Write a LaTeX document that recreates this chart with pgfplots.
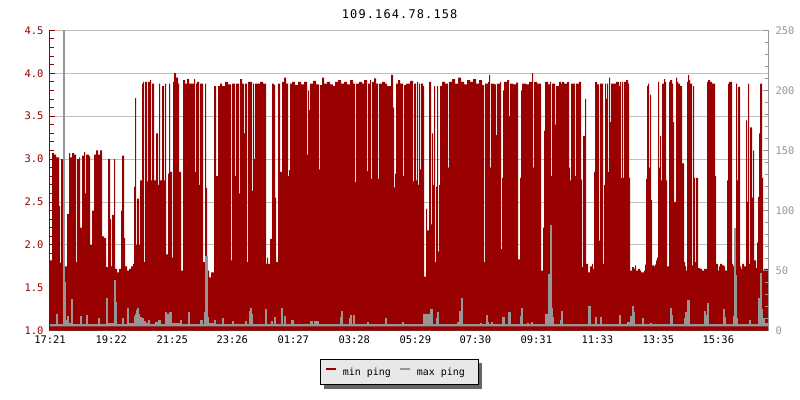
\documentclass[border=0pt]{standalone}
\usepackage{fontspec}
\setmainfont{DejaVu Sans Mono}
\usepackage{pgfplots}
\pgfplotsset{compat=1.18}
\pgfdeclarelayer{shadowlayer}
\pgfsetlayers{shadowlayer,main}
\definecolor{minred}{RGB}{153,0,0}
\definecolor{maxgray}{RGB}{150,150,150}
\definecolor{gridgray}{RGB}{192,192,192}
\definecolor{leggray}{RGB}{232,232,232}
\begin{document}
\begin{tikzpicture}
\path[use as bounding box] (0,0) rectangle (800bp,400bp);
\pgfplotsset{
  mybase/.style={
    scale only axis, width=718bp, height=300.4bp,
    at={(50bp,69.3bp)}, anchor=south west,
    xmin=0, xmax=718,
    tick label style={font=\fontsize{10.5}{12}\selectfont},
    /pgf/number format/assume math mode=true,
    major tick length=5bp, minor tick length=3.5bp,
    axis line style={-},
  }
}
\begin{axis}[mybase,
  ymin=1, ymax=4.5,
  axis x line=none, axis y line*=left,
  tick align=inside,
  ytick={1,1.5,2,2.5,3,3.5,4,4.5}, minor y tick num=4,
  y axis line style={draw=minred, line width=1bp},
  ytick style={draw=minred, line width=0.8bp},
  yticklabel style={text=minred, xshift=-3bp, /pgf/number format/.cd, fixed, fixed zerofill, precision=1},
  ymajorgrids, major grid style={draw=gridgray, line width=0.8bp},
  title={\addfontfeatures{LetterSpace=9.5}109.164.78.158},
  title style={at={(0.487,1)}, anchor=center, yshift=10bp, font=\fontsize{12}{14}\selectfont},
]
\addplot[const plot, fill=minred, draw=none] coordinates {
(0,1.82)(2,3.07)(4,3.05)(6,3.02)(9,2.45)(10,1.79)(11,3.0)(13,1.72)(15,1.75)(17,2.36)(19,3.07)(20,3.02)(22,3.07)(24,3.05)(26,1.8)(27,3.0)(29,3.02)(30,2.2)(32,3.04)(34,3.08)(35,2.6)(36,3.05)(39,3.03)(40,2.0)(42,2.4)(44,3.05)(46,3.1)(48,3.05)(50,3.1)(52,2.1)(54,2.08)(56,1.74)(58,3.0)(60,2.3)(61,1.75)(62,2.35)(64,3.0)(65,1.72)(67,1.68)(69,1.72)(71,2.4)(72,3.04)(74,2.08)(75,1.75)(77,1.7)(79,1.72)(81,1.75)(83,1.78)(84,2.68)(85,3.71)(86,2.0)(87,2.54)(89,2.0)(90,2.75)(92,3.88)(93,3.9)(94,1.8)(95,3.9)(97,2.74)(98,3.9)(100,3.92)(101,2.75)(102,3.88)(104,2.75)(106,3.3)(108,2.7)(109,3.88)(110,2.75)(112,3.85)(114,2.75)
(115,3.88)(116,1.89)(118,2.83)(119,3.88)(120,2.85)(122,1.85)(123,3.9)(124,4.0)(126,3.95)(128,3.88)(129,2.85)(131,1.7)(133,3.92)(135,3.88)(137,3.93)(139,3.88)(144,3.93)(145,2.85)(146,3.88)(147,3.9)(149,2.7)(150,3.88)(153,1.8)(155,3.88)(156,2.66)(157,1.7)(159,1.62)(161,1.68)(164,3.85)(166,2.8)(168,3.85)(170,3.88)(172,3.85)(175,3.9)(178,3.87)(181,1.82)(182,3.88)(185,2.8)(186,3.88)(189,2.6)(190,3.93)(192,3.88)(194,3.3)(195,3.88)(197,1.8)(198,3.9)(202,2.63)(203,3.88)(204,3.0)(205,3.88)(210,3.9)(213,3.88)(216,1.78)(217,1.85)(218,1.78)(220,2.07)(222,3.88)(224,3.86)(225,2.55)(226,1.8)(228,3.88)(230,2.85)(232,3.9)(234,3.95)(236,3.88)(238,2.8)
(239,2.87)(240,3.88)(242,3.9)(245,3.86)(248,3.9)(251,3.87)(254,3.9)(257,3.05)(258,3.8)(259,3.57)(260,3.88)(263,3.91)(266,3.87)(269,2.88)(270,3.86)(272,3.95)(274,3.88)(277,3.9)(280,3.87)(283,3.85)(285,3.9)(288,3.92)(291,3.88)(294,3.9)(297,3.87)(300,3.92)(303,3.88)(305,2.73)(306,3.88)(309,3.9)(312,3.88)(314,3.92)(317,2.86)(318,3.88)(320,3.92)(321,2.77)(322,3.9)(324,3.94)(326,3.88)(328,2.77)(329,3.88)(332,3.9)(335,3.88)(337,3.85)(341,3.98)(343,3.6)(344,2.67)(345,2.83)(346,3.88)(348,3.92)(350,3.88)(353,2.8)(354,3.86)(356,3.88)
(357,3.88)(360,3.91)(363,2.74)(364,3.88)(366,2.75)(367,3.9)(368,2.7)(369,3.88)(370,2.88)(371,3.88)(373,3.85)(374,1.63)(376,2.42)(377,2.17)(379,3.9)(381,2.24)(382,3.3)(383,2.7)(384,3.85)(385,1.8)(386,2.68)(387,3.85)(388,1.92)(389,2.7)(390,3.85)(392,3.9)(395,3.88)(398,2.9)(399,3.9)(402,3.93)(405,3.88)(408,3.95)(411,3.9)(414,3.87)(417,3.92)(420,3.9)(423,3.93)(426,3.88)(429,3.92)(432,3.86)(434,1.8)(435,3.88)(438,3.9)(439,3.98)(440,2.9)(441,3.88)(444,3.87)(446,3.28)(447,3.88)(450,3.9)(451,1.95)(452,2.78)(453,3.8)(454,3.9)(457,3.92)(459,3.5)(460,3.88)(463,3.87)(466,3.89)(468,1.83)(470,2.78)(471,3.8)(472,3.88)
(476,3.87)(479,3.9)(482,4.0)(483,2.9)(484,3.9)(487,3.88)(491,1.7)(493,2.2)(494,3.33)(495,3.9)(498,3.87)(500,3.9)(501,2.8)(502,3.88)(505,3.4)(506,3.85)(509,3.9)(511,3.88)(512,3.9)(514,3.88)(517,3.9)(519,2.9)(520,2.75)(521,3.88)(525,2.8)(526,3.88)(529,3.9)(531,2.76)(532,1.74)(533,3.27)(535,3.7)(536,1.78)(538,1.68)(540,1.75)(542,1.78)(543,1.72)(544,2.85)(545,3.9)(547,3.87)(549,2.05)(550,3.88)(553,1.78)(554,2.7)(555,3.88)(556,3.7)(557,3.88)(558,2.85)(559,3.95)(560,3.43)(561,3.88)(564,3.88)(566,3.9)(569,3.85)(570,3.9)(571,2.78)(572,3.9)(573,2.78)(574,3.9)(576,3.92)(578,3.88)(579,2.78)(580,1.7)(582,1.74)(584,1.72)(585,1.76)(586,1.7)(588,1.72)(590,1.7)(591,1.68)(594,1.7)
(595,1.77)(596,2.77)(597,3.85)(598,3.88)(599,2.9)(600,3.75)(601,2.52)(602,1.76)(604,1.75)(605,1.77)(606,1.82)(607,1.85)(608,3.9)(609,2.9)(610,3.27)(611,2.75)(612,3.88)(614,3.93)(615,3.9)(616,2.75)(617,1.75)(619,3.9)(620,3.92)(622,3.88)(623,3.43)(624,2.5)(626,3.95)(627,3.9)(628,3.88)(630,3.85)(632,2.95)(634,1.8)(635,1.75)(636,1.7)(637,3.9)(638,3.98)(639,3.92)(640,3.88)(642,1.76)(643,3.85)(644,2.78)(645,1.8)(646,2.78)(648,1.73)(650,1.72)(652,1.7)(654,1.72)(657,3.9)(658,3.92)(660,3.9)(662,3.88)(665,2.8)(666,1.78)(668,1.7)(669,1.75)(670,1.78)(672,1.76)(674,1.75)(675,1.7)(677,2.75)(678,3.88)(679,3.9)(682,1.78)(683,1.75)(686,3.88)(687,2.75)(688,3.84)(690,1.75)(691,1.72)(692,1.78)(694,1.75)(696,3.45)(697,2.5)(698,3.88)(699,1.78)(700,3.37)(702,2.55)(703,3.1)(704,1.82)(706,1.73)(707,2.03)(708,2.56)(709,3.3)(710,3.88)(712,2.78)(713,1.7)(714,1.72)(718,1.72)
} \closedcycle;
\end{axis}
\begin{axis}[mybase,
  ymin=0, ymax=250,
  axis x line*=bottom, axis y line*=right,
  tick align=inside,
  xtick={0,61.3,122.3,182.3,243.3,304.3,365.3,425.3,486.3,547.3,608.3,668.3},
  xticklabels={{17:21},{19:22},{21:25},{23:26},{01:27},{03:28},{05:29},{07:30},{09:31},{11:33},{13:35},{15:36}},
  xticklabel style={yshift=-1.5bp},
  x axis line style={draw=black, line width=1bp},
  xtick style={draw=black, line width=0.8bp},
  ytick={0,50,100,150,200,250}, minor y tick num=4,
  y axis line style={draw=maxgray, line width=1bp},
  ytick style={draw=maxgray, line width=0.8bp},
  yticklabel style={text=maxgray, xshift=4bp},
  legend columns=2,
  legend style={name=leg, at={(0.486,-0.095)}, anchor=north, draw=black, fill=leggray, line width=0.8bp,
    font=\fontsize{10}{12}\selectfont,
    inner xsep=5bp, inner ysep=6bp,
    /tikz/every odd column/.append style={column sep=4bp},
    /tikz/every even column/.append style={column sep=6bp}},
  legend image code/.code={\draw[draw=#1, line width=2bp] (0bp,3bp) -- (10bp,3bp);},
]
\addlegendimage{minred}
\addlegendentry{min ping}
\addplot[const plot, fill=maxgray, draw=maxgray, line width=0.4bp, mark=none, legend image code/.code={\draw[draw=maxgray, line width=2bp] (0bp,3bp) -- (10bp,3bp);}] coordinates {
(0,5)(6,14)(7,5)(13,260)(14,40)(15,5)(16,9)(17,12)(18,6)(21,26)(22,5)(30,12)(31,5)(36,13)(37,5)(48,10)(49,5)(56,27)(57,6)(64,42)(65,24)(66,5)(72,10)(73,5)(77,19)(78,6)(84,12)(85,14)(86,17)(87,19)(88,14)(89,11)(91,10)(93,8)(95,6)(98,9)(99,5)(105,7)(108,9)(110,5)(115,15)(116,14)(119,15)(121,6)(130,9)(131,5)(138,15)(139,5)(150,9)(152,5)(154,15)(155,62)(157,11)(158,6)(164,9)(165,5)(172,10)(173,5)(182,8)(183,5)(195,8)(196,5)(199,16)(200,19)(201,14)(202,5)(215,18)(216,5)(221,8)(222,5)(224,11)(225,5)(231,19)(232,5)(234,12)(235,5)
(241,9)(243,5)(260,8)(262,5)(264,8)(268,5)(290,11)(291,16)(292,5)(299,10)(300,13)(301,5)(303,13)(304,5)(317,7)(318,5)(335,10)(336,5)(352,7)(353,5)
(373,14)(375,11)(376,14)(379,9)(380,18)(382,5)(386,10)(387,15)(388,5)(407,7)(409,16)(411,27)(412,5)(430,6)(431,5)(436,13)(437,7)(438,5)(441,7)(442,5)(452,11)(454,5)(458,15)(460,5)(470,12)(471,19)(472,5)(477,6)(478,5)
(481,7)(482,5)(495,14)(497,5)(498,47)(500,88)(501,19)(502,11)(503,5)(510,9)(511,16)(512,5)(538,20)(540,5)(545,11)(546,5)(550,11)(551,5)(569,13)(570,5)(577,7)(580,12)(582,20)(583,15)(584,5)(592,10)(593,5)
(600,6)(601,5)(620,19)(621,13)(622,5)(634,10)(635,15)(637,25)(639,5)(654,16)(655,13)(657,23)(658,5)(673,18)(674,11)(675,5)(683,12)(684,85)(685,46)(686,10)(687,5)(699,9)(700,5)(708,27)(710,48)(711,18)(712,10)(714,6)(718,6)
} \closedcycle;
\addlegendentry{max ping\rule{6bp}{0pt}}
\addplot[forget plot, const plot, fill=minred, draw=none] coordinates {(0,3.6)(718,3.6)} \closedcycle;
\end{axis}
\begin{pgfonlayer}{shadowlayer}
\fill[black!60] ([xshift=4bp,yshift=-4bp]leg.south west) rectangle ([xshift=4bp,yshift=-4bp]leg.north east);
\end{pgfonlayer}
\end{tikzpicture}
\end{document}
